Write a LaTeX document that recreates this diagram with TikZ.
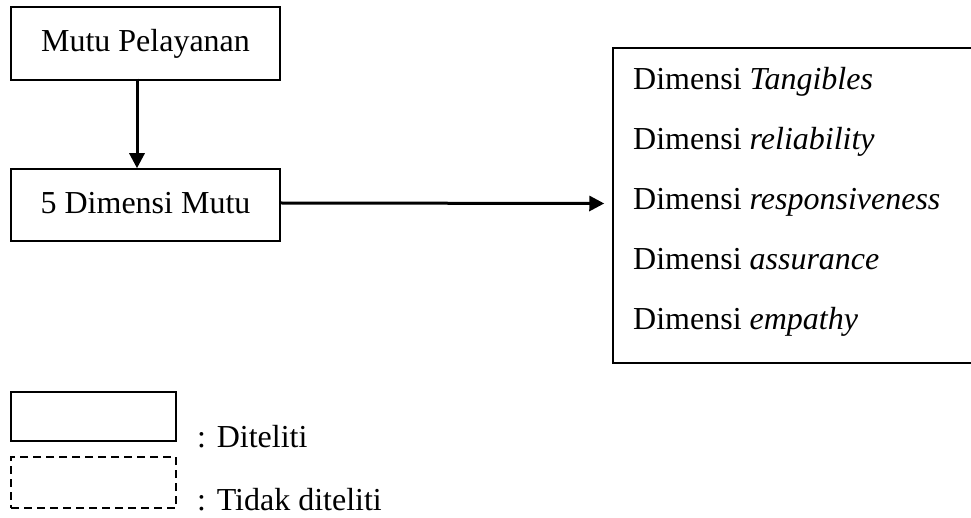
\documentclass[tikz,border=0pt]{standalone}
\usepackage{fontspec}
\setmainfont{Liberation Serif}
\usetikzlibrary{arrows.meta}
\begin{document}
\begin{tikzpicture}[x=1pt,y=-1pt,
  box/.style={draw=black,line width=1.5pt,rectangle,inner sep=0pt},
  dbox/.style={box,dash pattern=on 8pt off 5pt},
  txt/.style={inner sep=0pt,anchor=base west},
  arr/.style={line width=3pt,-{Triangle[length=15pt,width=15pt]}},
  every node/.style={font=\fontsize{32}{38}\selectfont}]
\useasboundingbox (0,0) rectangle (971,518);
\clip (0,0) rectangle (971,518);
\node[box,minimum width=269pt,minimum height=73pt] (m1) at (145.5,43.5) {};
\node[inner sep=0pt,anchor=base] (m1t) at (145.5,52) {Mutu Pelayanan};
\node[box,minimum width=269pt,minimum height=72pt] (m2) at (145.5,205) {};
\node[inner sep=0pt,anchor=base] (m2t) at (145.5,214) {5 Dimensi Mutu};
\node[box,minimum width=362pt,minimum height=315pt] (dims) at (794,205.5) {};
\node[txt] (d1) at (633,90) {Dimensi \textit{Tangibles}};
\node[txt] (d2) at (633,150) {Dimensi \textit{reliability}};
\node[txt] (d3) at (633,210) {Dimensi \textit{responsiveness}};
\node[txt] (d4) at (633,270) {Dimensi \textit{assurance}};
\node[txt] (d5) at (633,330) {Dimensi \textit{empathy}};
\draw[arr] ([xshift=-8.5pt,yshift=2pt]m1.south) -- ([xshift=-8.5pt]m2.north);
\draw[arr,shorten >=8pt] ([yshift=2pt]m2.east) -- ([yshift=2pt]dims.west);
\node[box,minimum width=165pt,minimum height=49pt] (l1) at (93.5,416.5) {};
\node[dbox,minimum width=165pt,minimum height=51pt] (l2) at (93.5,482.5) {};
\node[txt] (t1) at (197,447) {: Diteliti};
\node[txt] (t2) at (197,510) {: Tidak diteliti};
\end{tikzpicture}
\end{document}
